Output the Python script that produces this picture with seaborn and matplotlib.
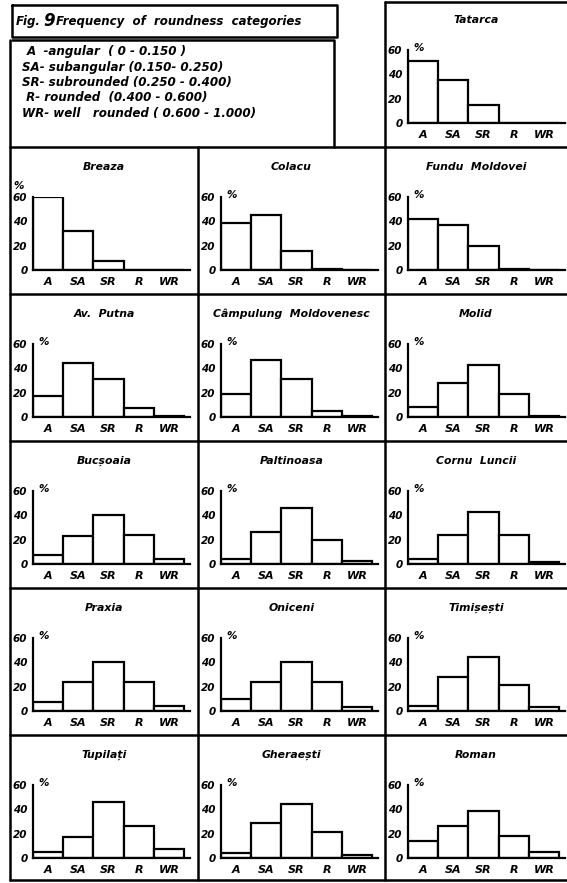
import matplotlib
matplotlib.use("Agg")
import numpy as np
import pandas as pd
import matplotlib.pyplot as plt
import seaborn as sns

# roundness classes
categories = ["A", "SA", "SR", "R", "WR"]

# percentages (A, SA, SR, R, WR)
tatarca = [51, 35, 15, 0, 0]
breaza = [60, 32, 7, 0, 0]
colacu = [39, 45, 16, 1, 0]
fundu_moldovei = [42, 37, 20, 1, 0]
av_putna = [17, 44, 31, 7, 1]
campulung = [19, 47, 31, 5, 0.5]
molid = [8, 28, 43, 19, 1]
bucsoaia = [7, 23, 40, 24, 4]
paltinoasa = [4, 26, 46, 20, 2.5]
cornu_luncii = [4, 24, 43, 24, 2]
praxia = [7, 24, 40, 24, 4]
oniceni = [10, 24, 40, 24, 3]
timisesti = [4, 28, 44, 21, 3]
tupilati = [5, 17, 46, 26, 7]
gheraesti = [4, 29, 44, 21, 2.5]
roman = [14, 26, 39, 18, 5]

legend_lines = [
    "A  -angular  ( 0 - 0.150 )",
    "SA- subangular (0.150- 0.250)",
    "SR- subrounded (0.250 - 0.400)",
    " R- rounded  (0.400 - 0.600)",
    "WR- well   rounded ( 0.600 - 1.000)",
]

# (name, values, row, col)
panels = [
    ("Tatarca", tatarca, 0, 2),
    ("Breaza", breaza, 1, 0),
    ("Colacu", colacu, 1, 1),
    ("Fundu  Moldovei", fundu_moldovei, 1, 2),
    ("Av.  Putna", av_putna, 2, 0),
    ("Câmpulung  Moldovenesc", campulung, 2, 1),
    ("Molid", molid, 2, 2),
    ("Bucșoaia", bucsoaia, 3, 0),
    ("Paltinoasa", paltinoasa, 3, 1),
    ("Cornu  Luncii", cornu_luncii, 3, 2),
    ("Praxia", praxia, 4, 0),
    ("Oniceni", oniceni, 4, 1),
    ("Timișești", timisesti, 4, 2),
    ("Tupilați", tupilati, 5, 0),
    ("Gheraești", gheraesti, 5, 1),
    ("Roman", roman, 5, 2),
]

sns.set_style("white")
plt.rcParams["font.family"] = ["DejaVu Sans"]
plt.rcParams["font.weight"] = "bold"
plt.rcParams["font.style"] = "italic"
plt.rcParams["text.color"] = "black"
plt.rcParams["xtick.color"] = "black"
plt.rcParams["ytick.color"] = "black"
plt.rcParams["axes.edgecolor"] = "black"

W, H = 567, 883
fig = plt.figure(figsize=(W / 100, H / 100), dpi=100)

# frame layer in pixel coordinates
frame = fig.add_axes([0, 0, 1, 1])
frame.set_xlim(0, W)
frame.set_ylim(H, 0)
frame.axis("off")

lw = 1.8
col_edges = [10, 198, 385, 567]
row_tops = [0, 147, 294, 441, 588, 735]
bottom = 880

# outer borders and grid
frame.plot([10, 10], [40, bottom], color="black", lw=lw)
frame.plot([10, 567], [bottom, bottom], color="black", lw=lw)
frame.plot([198, 198], [147, bottom], color="black", lw=lw)
frame.plot([385, 385], [2, bottom], color="black", lw=lw)
frame.plot([385, 567], [2, 2], color="black", lw=lw)
for r in row_tops[1:]:
    frame.plot([10, 567], [r, r], color="black", lw=lw)

# title box and legend box
frame.plot([12, 337, 337, 12, 12], [5, 5, 37, 37, 5], color="black", lw=lw)
frame.plot([12, 334, 334], [40, 40, 147], color="black", lw=lw)
frame.text(16, 22, "Fig.", fontsize=8.5, va="center", ha="left")
frame.text(43, 20.5, "9", fontsize=12, va="center", ha="left")
frame.text(56, 22, "Frequency  of  roundness  categories", fontsize=8.5,
           va="center", ha="left")
for i, line in enumerate(legend_lines):
    frame.text(22 if i != 0 else 27, 52 + i * 15.3, line, fontsize=8.6,
               va="center", ha="left")

ax_w = 157
for name, vals, row, col in panels:
    top = row_tops[row]
    x0 = col_edges[col] + 23
    y_zero = top + 123
    ax = fig.add_axes([x0 / W, 1 - y_zero / H, ax_w / W, 73 / H])
    df = pd.DataFrame({"cat": categories, "pct": vals})
    sns.barplot(data=df, x="cat", y="pct", ax=ax, color="white",
                edgecolor="black", linewidth=1.6, width=1, saturation=1)
    ax.set_xlim(-0.5, 4.7)
    ax.set_ylim(0, 60)
    ax.set_yticks([0, 20, 40, 60])
    ax.set_xlabel("")
    ax.set_ylabel("")
    ax.patch.set_alpha(0)
    for s in ["top", "right"]:
        ax.spines[s].set_visible(False)
    for s in ["left", "bottom"]:
        ax.spines[s].set_linewidth(1.6)
    ax.tick_params(axis="x", length=0, pad=5, labelsize=8)
    ax.tick_params(axis="y", length=3, width=1.2, pad=1, labelsize=7.5)

    cx = (col_edges[col] + col_edges[col + 1]) / 2
    frame.text(cx, top + 20, name, fontsize=7.8, ha="center", va="center")
    if name == "Breaza":
        frame.text(x0 - 20, top + 39, "%", fontsize=7.5, ha="left", va="center")
    else:
        frame.text(x0 + 5, top + 48, "%", fontsize=7.5, ha="left", va="center")

fig.savefig("out.png", dpi=100)
